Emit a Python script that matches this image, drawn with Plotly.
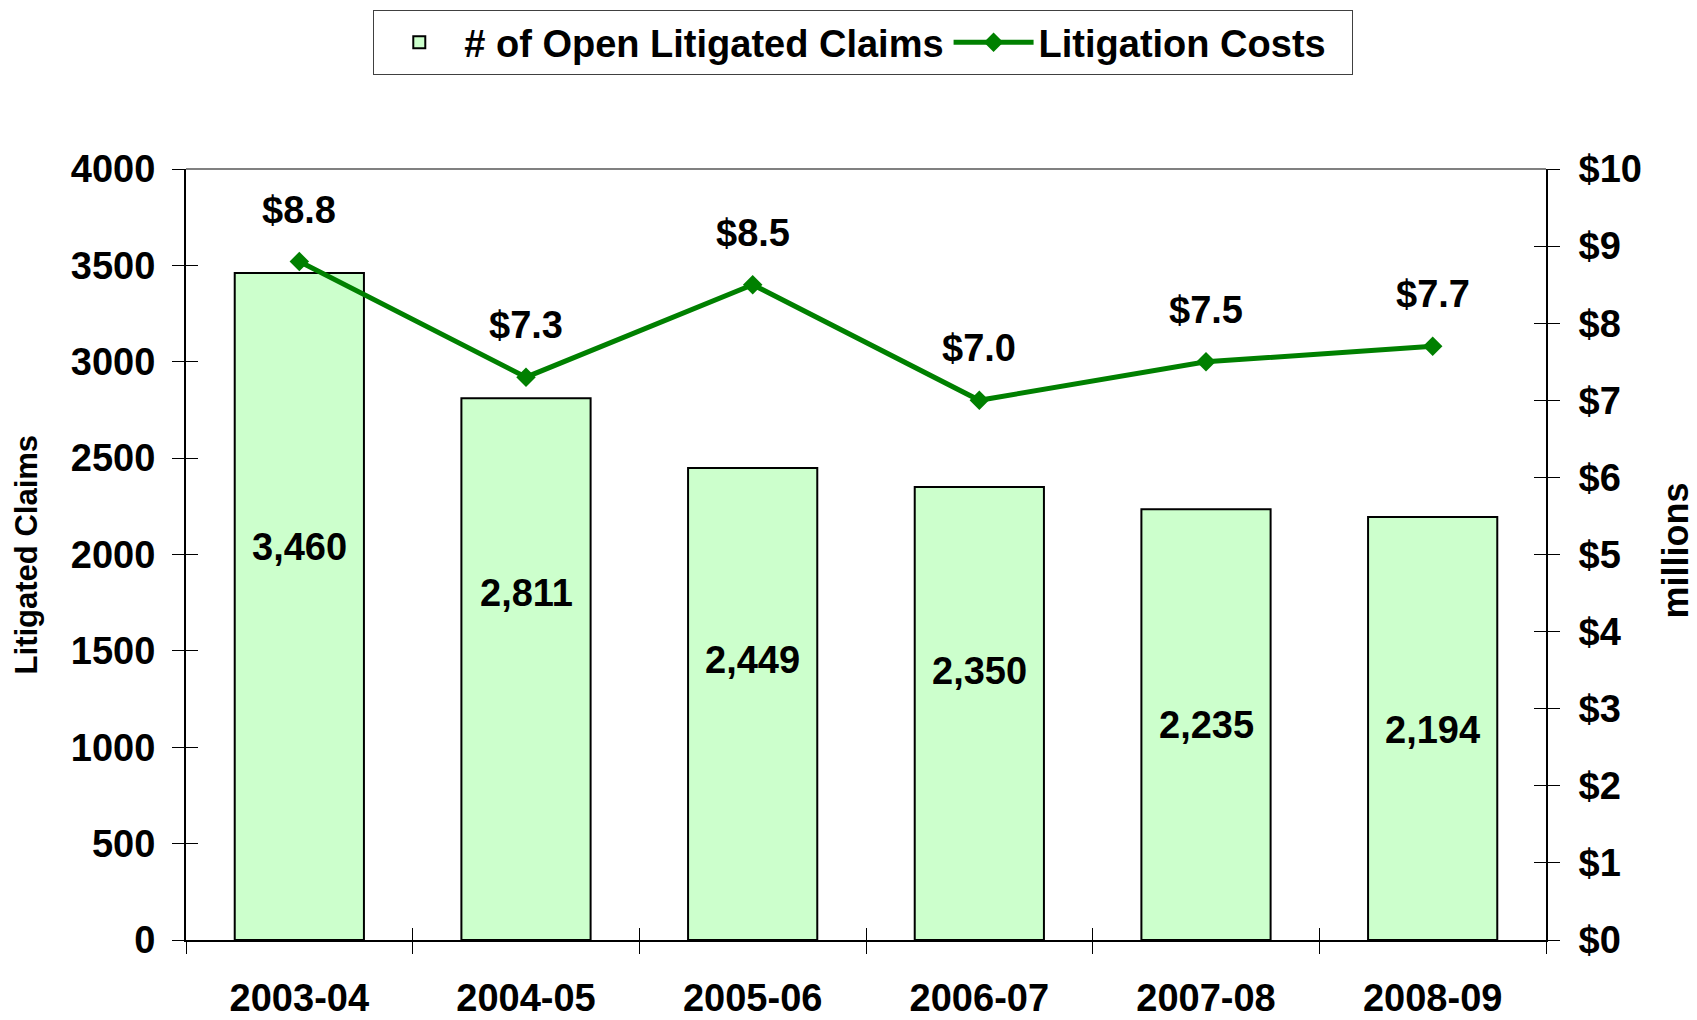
import plotly.graph_objects as go

# ---- data ----
years = ["2003-04", "2004-05", "2005-06", "2006-07", "2007-08", "2008-09"]
open_claims = [3460, 2811, 2449, 2350, 2235, 2194]
litigation_costs = [8.8, 7.3, 8.5, 7.0, 7.5, 7.7]

# ---- layout constants (label heights inside the bars, in claim units) ----
bar_label_y = [2039, 1800, 1453, 1396, 1115, 1089]

FONT = "Liberation Sans, Arial, sans-serif"
GREEN = "#008000"
BAR_FILL = "#CCFFCC"

fig = go.Figure()

fig.add_trace(go.Bar(
    x=years, y=open_claims, name="# of Open Litigated Claims",
    marker=dict(color=BAR_FILL, line=dict(color="black", width=2)),
    xaxis="x", yaxis="y", hoverinfo="skip",
))
fig.add_trace(go.Scatter(
    x=years, y=litigation_costs, name="Litigation Costs\u00a0\u00a0",
    mode="lines+markers",
    line=dict(color=GREEN, width=5),
    marker=dict(symbol="diamond", size=15, color=GREEN),
    xaxis="x", yaxis="y2", hoverinfo="skip",
))
# invisible helper traces so the overlay (inside-tick) axes are drawn
fig.add_trace(go.Scatter(x=years, y=[None] * len(years), xaxis="x2", yaxis="y3",
                         showlegend=False, hoverinfo="skip", mode="markers"))
fig.add_trace(go.Scatter(x=years, y=[None] * len(years), xaxis="x", yaxis="y4",
                         showlegend=False, hoverinfo="skip", mode="markers"))

bold38 = dict(family=FONT, size=38, color="black", weight="bold")

annotations = []
for yr, v, ly in zip(years, open_claims, bar_label_y):
    annotations.append(dict(x=yr, y=ly, xref="x", yref="y", text=f"{v:,}",
                            showarrow=False, font=bold38))
for yr, v in zip(years, litigation_costs):
    annotations.append(dict(x=yr, y=v, xref="x", yref="y2", text=f"${v:.1f}",
                            showarrow=False, yshift=52, font=bold38))
annotations.append(dict(x=-0.117, y=0.5, xref="paper", yref="paper", xanchor="center",
                        text="Litigated Claims", textangle=-90, showarrow=False,
                        font=dict(family=FONT, size=31, color="black", weight="bold")))
annotations.append(dict(x=1.0955, y=0.505, xref="paper", yref="paper", xanchor="center",
                        text="millions", textangle=-90, showarrow=False,
                        font=dict(family=FONT, size=36, color="black", weight="bold")))

tickfont = bold38

# page body adds an 8px margin, so the figure is 8px smaller and margins shifted
fig.update_layout(
    width=1689, height=1012,
    margin=dict(l=178, r=151, t=161, b=80, autoexpand=False),
    paper_bgcolor="white", plot_bgcolor="white",
    bargap=0.43,
    font=dict(family=FONT, color="black"),
    showlegend=True,
    legend=dict(orientation="h", x=0.498, xanchor="center", xref="paper",
                y=0.998, yanchor="top", yref="container",
                bordercolor="#404040", borderwidth=1, bgcolor="white",
                font=bold38, itemwidth=80),
    xaxis=dict(type="category", categoryorder="array", categoryarray=years,
               range=[-0.5, 5.5], tickson="boundaries", ticks="outside", ticklen=12,
               tickcolor="black", showline=True, linecolor="black", linewidth=2,
               showgrid=False, tickfont=tickfont, ticklabelstandoff=23, anchor="y",
               zeroline=False, automargin=False),
    xaxis2=dict(type="category", categoryorder="array", categoryarray=years,
                overlaying="x", anchor="y", side="bottom",
                range=[-0.5, 5.5], tickson="boundaries", ticks="inside", ticklen=12,
                tickcolor="black", showticklabels=False, showgrid=False, showline=False,
                automargin=False),
    yaxis=dict(range=[0, 4000], dtick=500, tick0=0, ticks="outside", ticklen=12,
               tickcolor="black", showline=True, linecolor="black", linewidth=2,
               showgrid=False, zeroline=False, tickfont=tickfont, ticklabelstandoff=9,
               tickformat="d", automargin=False),
    yaxis2=dict(range=[0, 10], dtick=1, tick0=0, overlaying="y", side="right",
                anchor="x", ticks="outside", ticklen=12, tickcolor="black",
                showline=True, linecolor="black", linewidth=2, showgrid=False,
                zeroline=False, tickprefix="$", tickfont=tickfont, ticklabelstandoff=11,
                automargin=False),
    yaxis3=dict(range=[0, 4000], dtick=500, tick0=0, overlaying="y", side="left",
                anchor="x2", ticks="inside", ticklen=12, tickcolor="black",
                showticklabels=False, showgrid=False, showline=False, zeroline=False,
                automargin=False),
    yaxis4=dict(range=[0, 10], dtick=1, tick0=0, overlaying="y", side="right",
                anchor="x", ticks="inside", ticklen=12, tickcolor="black",
                showticklabels=False, showgrid=False, showline=False, zeroline=False,
                automargin=False),
    annotations=annotations,
    shapes=[dict(type="line", xref="paper", yref="paper", x0=0, x1=1, y0=1, y1=1,
                 line=dict(color="#808080", width=2))],
)

fig.write_html("out.html")
